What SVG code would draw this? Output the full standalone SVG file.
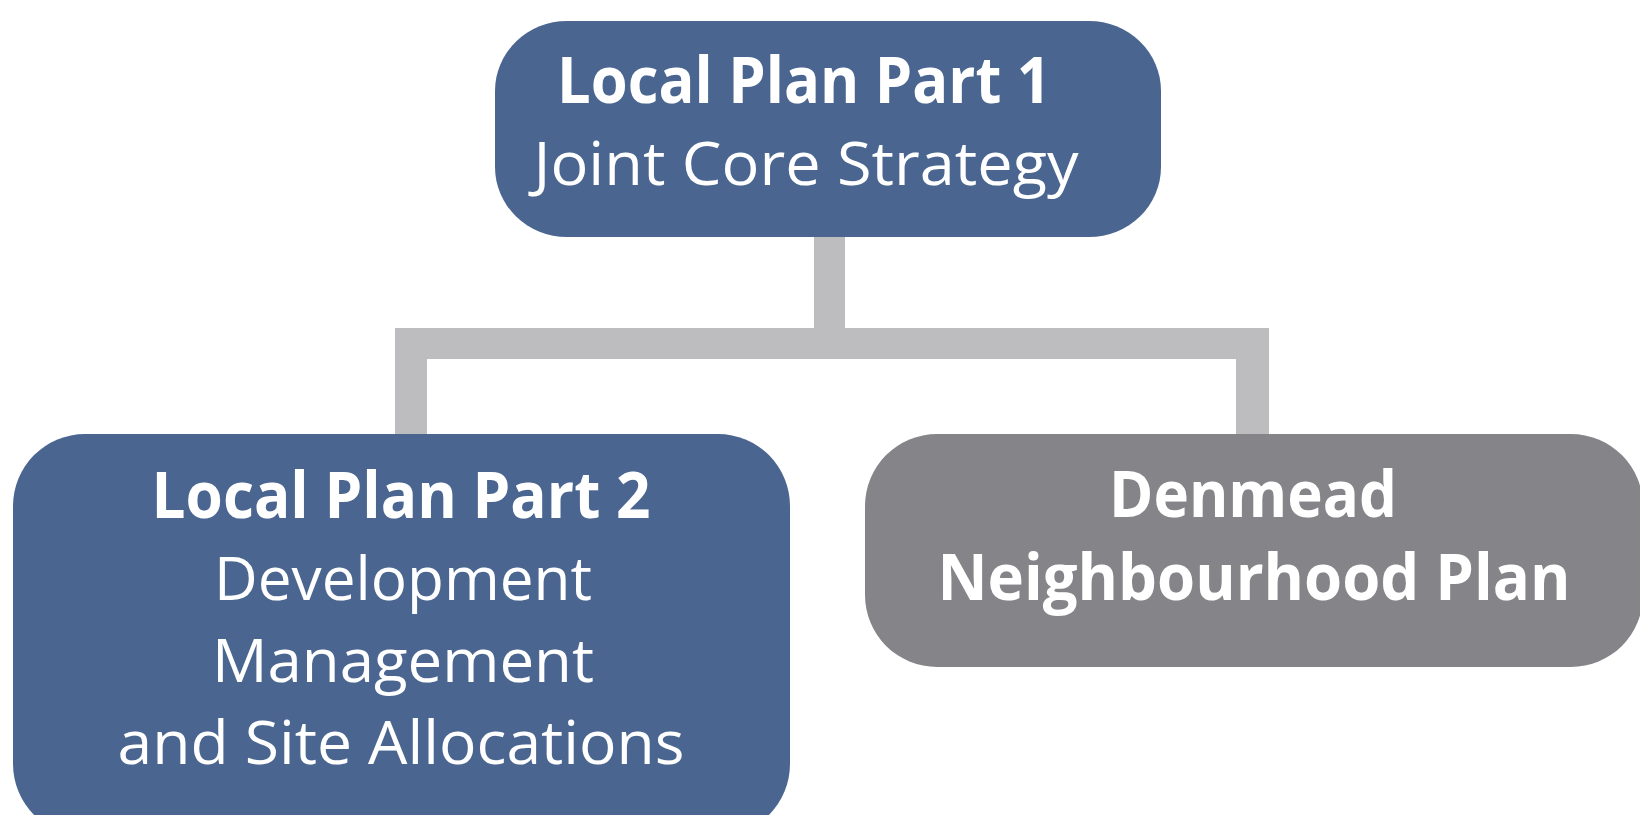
<svg xmlns="http://www.w3.org/2000/svg" width="1640" height="815" viewBox="0 0 1640 815">
<style>
.blue{fill:#4a6690}
.gray{fill:#858589}
.conn{fill:#bdbdbf}
text{fill:#ffffff;font-family:"Open Sans","Noto Sans","Liberation Sans",sans-serif;text-anchor:middle}
.b{font-weight:700;font-size:64px}
.r{font-weight:400;font-size:61px}
</style>
<g id="connectors">
<rect class="conn" x="814" y="236" width="31" height="94"/>
<rect class="conn" x="395" y="328" width="874" height="31"/>
<rect class="conn" x="395" y="344" width="32" height="92"/>
<rect class="conn" x="1236" y="344" width="33" height="92"/>
</g>
<g id="node-lpp1">
<rect class="blue" x="495" y="21" width="666" height="216" rx="72" ry="70"/>
<text class="b" x="804" y="103" textLength="494" lengthAdjust="spacingAndGlyphs">Local Plan Part 1</text>
<text class="r" x="806" y="185" textLength="545" lengthAdjust="spacingAndGlyphs">Joint Core Strategy</text>
</g>
<g id="node-lpp2">
<rect class="blue" x="13" y="434" width="777" height="402" rx="72" ry="72"/>
<text class="b" x="401" y="518" textLength="499" lengthAdjust="spacingAndGlyphs">Local Plan Part 2</text>
<text class="r" x="403" y="600" textLength="378" lengthAdjust="spacingAndGlyphs">Development</text>
<text class="r" x="403" y="682" textLength="382" lengthAdjust="spacingAndGlyphs">Management</text>
<text class="r" x="401" y="764" textLength="567" lengthAdjust="spacingAndGlyphs">and Site Allocations</text>
</g>
<g id="node-denmead">
<rect class="gray" x="865" y="434" width="778" height="233" rx="72" ry="72"/>
<text class="b" x="1253" y="517" textLength="288" lengthAdjust="spacingAndGlyphs">Denmead</text>
<text class="b" x="1254" y="600" textLength="633" lengthAdjust="spacingAndGlyphs">Neighbourhood Plan</text>
</g>
</svg>
